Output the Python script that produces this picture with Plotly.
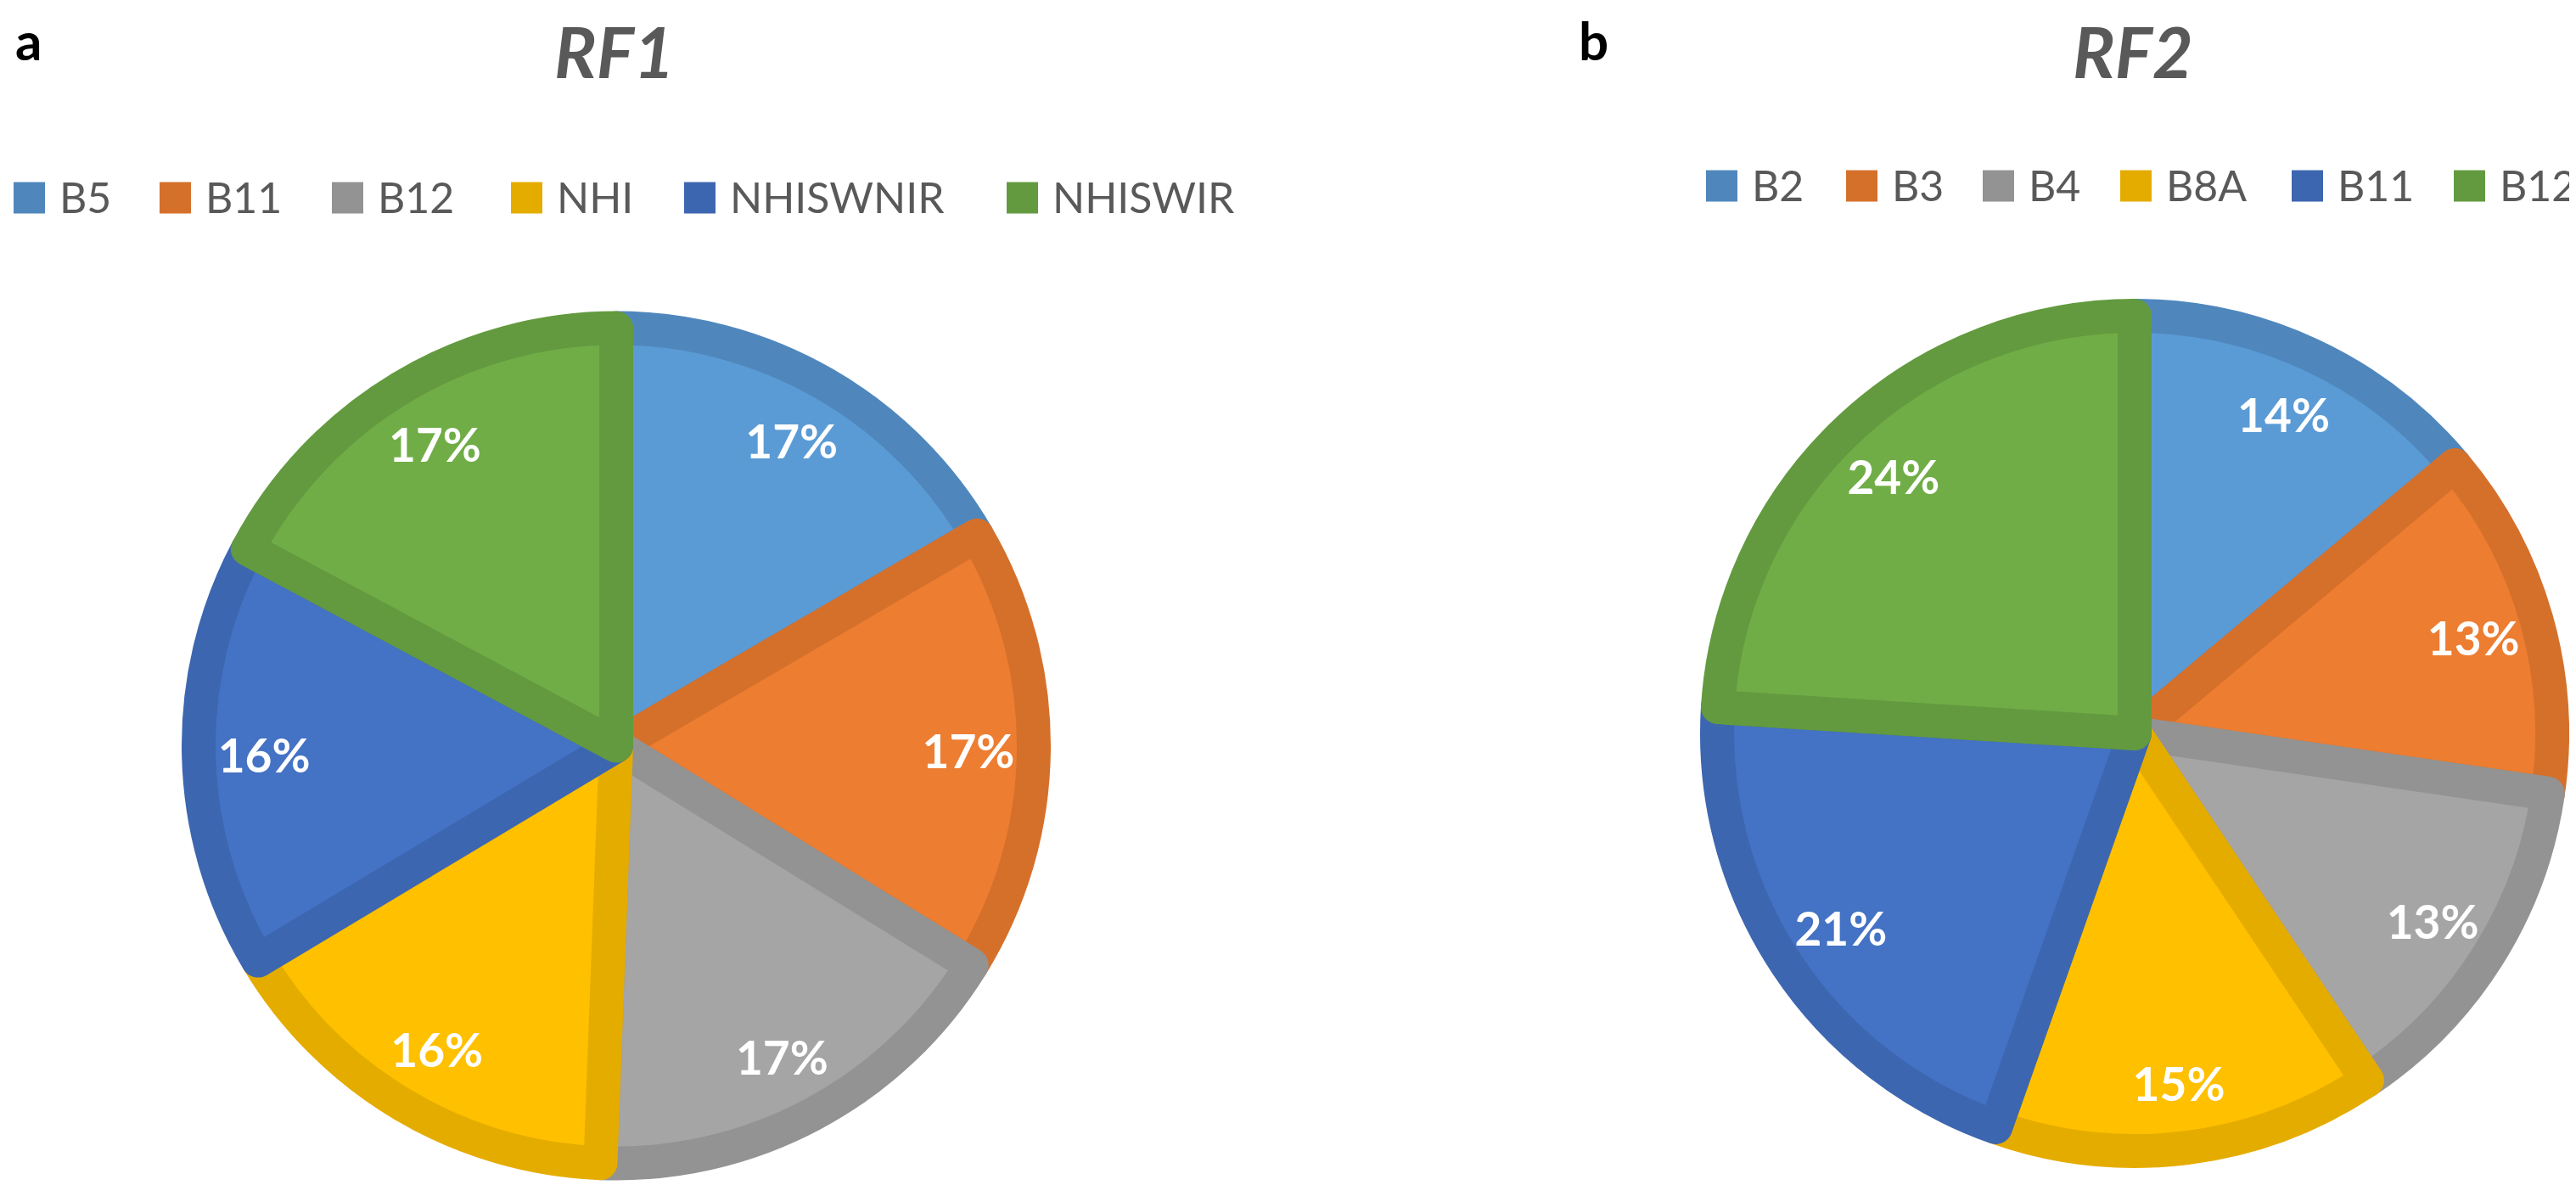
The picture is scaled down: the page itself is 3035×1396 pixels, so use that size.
import plotly.graph_objects as go

# ---- data ----
rf1_labels = ["B5", "B11", "B12", "NHI", "NHISWNIR", "NHISWIR"]
rf1_values = [16.6, 17.2, 16.8, 15.8, 16.4, 17.2]
rf2_labels = ["B2", "B3", "B4", "B8A", "B11", "B12"]
rf2_values = [13.9, 13.4, 13.3, 14.8, 20.6, 24.0]
titles = ["RF1", "RF2"]
panel_letters = ["a", "b"]

fill_colors = ["#5B9BD5", "#ED7D31", "#A5A5A5", "#FFC000", "#4472C4", "#70AD47"]
edge_colors = ["#4F87BD", "#D5702B", "#939393", "#E5AC00", "#3D66B0", "#639A3F"]

# ---- layout constants (pixels) ----
W, H = 3035, 1396
R = 492
EDGE = 40
legend1_x = [8, 180, 383, 594, 798, 1178]
legend2_x = [2002, 2167, 2328, 2490, 2692, 2883]
legend1_y, legend2_y = 225, 211
SW = 37  # swatch size
TEXT_OFF = 52


def dom(cx, cy):
    return dict(x=[(cx - R) / W, (cx + R) / W], y=[(H - cy - R) / H, (H - cy + R) / H])


fig = go.Figure()

pies = [
    (rf1_labels, rf1_values, dom(718, 870.5)),
    (rf2_labels, rf2_values, dom(2507, 856)),
]

for labels, values, d in pies:
    fig.add_trace(go.Pie(
        labels=labels, values=values, domain=d,
        sort=False, direction="clockwise", rotation=0,
        marker=dict(colors=fill_colors, line=dict(color=edge_colors, width=EDGE)),
        textinfo="none", hoverinfo="label+percent", showlegend=False,
    ))
    fig.add_trace(go.Pie(
        labels=labels, values=values, domain=d, hole=0.687,
        sort=False, direction="clockwise", rotation=0,
        marker=dict(colors=["rgba(0,0,0,0)"] * len(values), line=dict(width=0)),
        texttemplate="%{percent:.0%}", textposition="inside",
        insidetextorientation="horizontal",
        insidetextfont=dict(family="Lato", size=55, color="white", weight="bold"),
        hoverinfo="skip", showlegend=False,
    ))

annotations = []
shapes = []
for labels, xs, yc in [(rf1_labels, legend1_x, legend1_y), (rf2_labels, legend2_x, legend2_y)]:
    for lab, x, c in zip(labels, xs, edge_colors):
        shapes.append(dict(type="rect", xref="paper", yref="paper",
                           x0=x / W, x1=(x + SW) / W,
                           y0=1 - (yc + SW / 2) / H, y1=1 - (yc - SW / 2) / H,
                           fillcolor=c, line=dict(width=0), layer="above"))
        annotations.append(dict(text=lab, x=(x + TEXT_OFF) / W, y=1 - (yc - 1) / H,
                                xref="paper", yref="paper", xanchor="left", yanchor="middle",
                                showarrow=False,
                                font=dict(family="Lato", size=50, color="#595959")))

annotations += [
    dict(text=f"<b><i>{titles[0]}</i></b>", x=716 / W, y=1 - 52 / H,
         xref="paper", yref="paper", xanchor="center", yanchor="middle", showarrow=False,
         font=dict(family="Lato", size=83, color="#595959")),
    dict(text=f"<b><i>{titles[1]}</i></b>", x=2505 / W, y=1 - 52 / H,
         xref="paper", yref="paper", xanchor="center", yanchor="middle", showarrow=False,
         font=dict(family="Lato", size=83, color="#595959")),
    dict(text=f"<b>{panel_letters[0]}</b>", x=8 / W, y=1.0,
         xref="paper", yref="paper", xanchor="left", yanchor="top", showarrow=False,
         font=dict(family="Lato", size=62, color="black")),
    dict(text=f"<b>{panel_letters[1]}</b>", x=1850 / W, y=1.0,
         xref="paper", yref="paper", xanchor="left", yanchor="top", showarrow=False,
         font=dict(family="Lato", size=62, color="black")),
]

fig.update_layout(
    width=W, height=H, autosize=False,
    margin=dict(l=0, r=0, t=0, b=0),
    paper_bgcolor="white", plot_bgcolor="white",
    annotations=annotations, shapes=shapes,
    showlegend=False,
)

fig.write_html("out.html")
